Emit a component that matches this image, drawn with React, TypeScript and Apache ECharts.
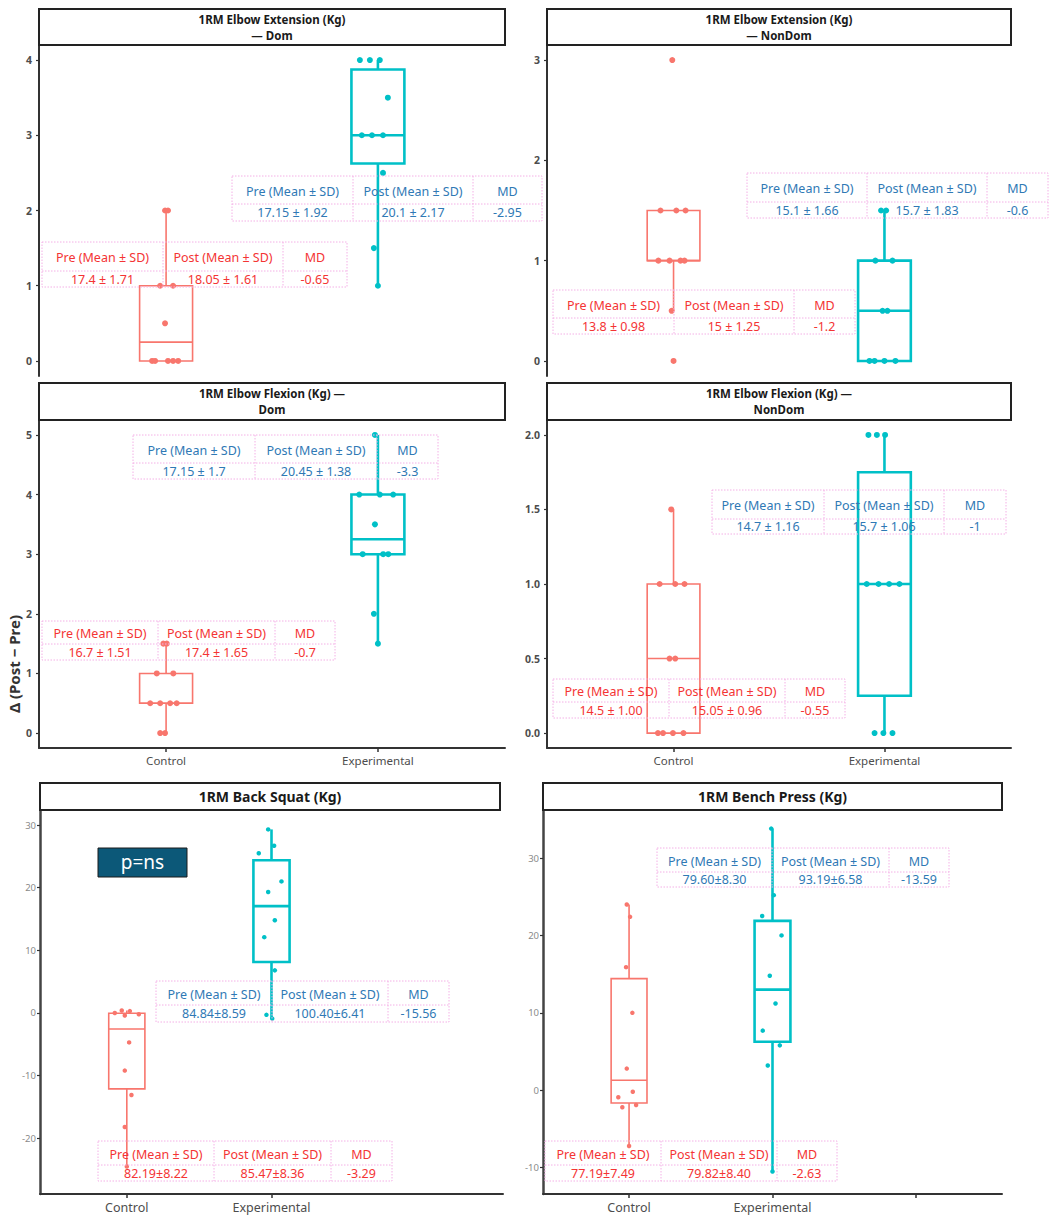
import React, { useEffect, useRef } from "react";
import * as echarts from "echarts";

// ---------- data ----------
const groupNames = ["Control", "Experimental"];
const bottomCategories = ["Control", "Experimental", ""];

const panelTitles = [
  ["1RM Elbow Extension (Kg)", "— Dom"],
  ["1RM Elbow Extension (Kg)", "— NonDom"],
  ["1RM Elbow Flexion (Kg) —", "Dom"],
  ["1RM Elbow Flexion (Kg) —", "NonDom"],
  ["1RM Back Squat (Kg)"],
  ["1RM Bench Press (Kg)"],
];

const yAxisName = "Δ (Post − Pre)";
const pLabel = "p=ns";

// Elbow Extension Dom
const extDomControl = [0, 0, 0, 0, 0, 0.5, 1, 1, 2, 2];
const extDomControlJitter = [-0.066, -0.052, 0.009, 0.033, 0.057, -0.005, -0.028, 0.033, -0.005, 0.009];
const extDomExp = [4, 4, 4, 3.5, 3, 3, 3, 2.5, 1.5, 1];
const extDomExpJitter = [-0.085, -0.038, 0.009, 0.047, -0.076, -0.028, 0.024, 0.024, -0.019, 0];

// Elbow Extension NonDom
const extNonControl = [1.5, 1.5, 1.5, 1, 1, 1, 1, 0.5, 0, 3];
const extNonControlJitter = [-0.062, 0.013, 0.057, -0.072, -0.019, 0.033, 0.052, -0.009, 0, -0.006];
const extNonExp = [1.5, 1.5, 1, 1, 0.5, 0.5, 0, 0, 0, 0];
const extNonExpJitter = [-0.016, 0.008, -0.043, 0.038, -0.009, 0.014, -0.071, -0.047, 0, 0.052];

// Elbow Flexion Dom
const flexDomControl = [1.5, 1.5, 1, 1, 0.5, 0.5, 0.5, 0.5, 0, 0];
const flexDomControlJitter = [-0.013, 0.003, -0.044, 0.034, -0.075, -0.028, 0.019, 0.05, -0.028, -0.005];
const flexDomExp = [5, 4, 4, 4, 3.5, 3, 3, 3, 2, 1.5];
const flexDomExpJitter = [-0.014, -0.088, 0.009, 0.072, -0.014, -0.072, 0.025, 0.049, -0.019, 0];

// Elbow Flexion NonDom
const flexNonControl = [1.5, 1, 1, 1, 0.5, 0.5, 0, 0, 0, 0];
const flexNonControlJitter = [-0.011, -0.066, 0.008, 0.052, -0.019, 0.008, -0.074, -0.05, -0.003, 0.047];
const flexNonExp = [2, 2, 2, 1, 1, 1, 1, 0, 0, 0];
const flexNonExpJitter = [-0.076, -0.036, 0.003, -0.084, -0.028, 0.022, 0.071, -0.047, -0.005, 0.038];

// Back Squat
const squatControl = [0, 0.4, 0.3, -0.4, -0.2, -4.7, -9.2, -13.1, -18.2, -24.5];
const squatControlJitter = [-0.083, -0.035, 0.021, -0.014, 0.083, 0.016, -0.014, 0.032, -0.014, 0];
const squatExp = [29.3, 26.7, 25.5, 21, 19.3, 14.8, 12.1, 6.8, -0.3, -0.9];
const squatExpJitter = [-0.023, 0.018, -0.088, 0.069, -0.023, 0.023, -0.05, 0.023, -0.035, 0.005];

// Bench Press
const benchControl = [24, 22.4, 15.9, 10, 2.8, -0.2, -0.9, -1.9, -2.2, -7.2];
const benchControlJitter = [-0.016, 0.007, -0.021, 0.023, -0.016, 0.026, -0.075, 0.049, -0.047, 0];
const benchExp = [33.8, 25.2, 22.5, 20, 14.8, 11.2, 7.7, 5.8, 3.2, -10.5];
const benchExpJitter = [-0.009, 0.009, -0.072, 0.063, -0.019, 0.021, -0.068, 0.051, -0.033, 0];

// y ticks
const ticksP1 = [0, 1, 2, 3, 4];
const ticksP2 = [0, 1, 2, 3];
const ticksP3 = [0, 1, 2, 3, 4, 5];
const ticksP4 = [0, 0.5, 1, 1.5, 2];
const ticksP5 = [-20, -10, 0, 10, 20, 30];
const ticksP6 = [-10, 0, 10, 20, 30];

// tables
const tableHeader = ["Pre (Mean ± SD)", "Post (Mean ± SD)", "MD"];
const tableControl = [
  ["17.4 ± 1.71", "18.05 ± 1.61", "-0.65"],
  ["13.8 ± 0.98", "15 ± 1.25", "-1.2"],
  ["16.7 ± 1.51", "17.4 ± 1.65", "-0.7"],
  ["14.5 ± 1.00", "15.05 ± 0.96", "-0.55"],
  ["82.19±8.22", "85.47±8.36", "-3.29"],
  ["77.19±7.49", "79.82±8.40", "-2.63"],
];
const tableExp = [
  ["17.15 ± 1.92", "20.1 ± 2.17", "-2.95"],
  ["15.1 ± 1.66", "15.7 ± 1.83", "-0.6"],
  ["17.15 ± 1.7", "20.45 ± 1.38", "-3.3"],
  ["14.7 ± 1.16", "15.7 ± 1.06", "-1"],
  ["84.84±8.59", "100.40±6.41", "-15.56"],
  ["79.60±8.30", "93.19±6.58", "-13.59"],
];

const panelData = [
  { c: extDomControl, cj: extDomControlJitter, e: extDomExp, ej: extDomExpJitter, ticks: ticksP1 },
  { c: extNonControl, cj: extNonControlJitter, e: extNonExp, ej: extNonExpJitter, ticks: ticksP2 },
  { c: flexDomControl, cj: flexDomControlJitter, e: flexDomExp, ej: flexDomExpJitter, ticks: ticksP3 },
  { c: flexNonControl, cj: flexNonControlJitter, e: flexNonExp, ej: flexNonExpJitter, ticks: ticksP4 },
  { c: squatControl, cj: squatControlJitter, e: squatExp, ej: squatExpJitter, ticks: ticksP5 },
  { c: benchControl, cj: benchControlJitter, e: benchExp, ej: benchExpJitter, ticks: ticksP6 },
];

// ---------- layout / style ----------
const FONT = "Noto Sans";
const C_CTRL = "#F8766D";
const C_EXP = "#00C0C7";
const T_RED = "#F43434";
const T_BLUE = "#2F79B5";
const GRIDLINE = "#F4B0E6";

const layout = [
  { grid: { left: 39, top: 45, width: 466, height: 331 }, y: [-0.2, 4.2], xMax: 2.6, xTicks: [1, 2], title: { x: 39, y: 9, w: 466, h: 36 }, showX: false, bottom: false,
    tc: { x: 42, y: 242, cols: [121, 120, 64], hh: 29, vh: 16 }, te: { x: 232, y: 176, cols: [121, 120, 69], hh: 28, vh: 17 } },
  { grid: { left: 547, top: 45, width: 464, height: 331 }, y: [-0.15, 3.15], xMax: 2.6, xTicks: [1, 2], title: { x: 547, y: 9, w: 464, h: 36 }, showX: false, bottom: false,
    tc: { x: 553, y: 290, cols: [121, 120, 61], hh: 28, vh: 16 }, te: { x: 747, y: 173, cols: [120, 120, 61], hh: 29, vh: 16 } },
  { grid: { left: 39, top: 420, width: 466, height: 328 }, y: [-0.25, 5.25], xMax: 2.6, xTicks: [1, 2], title: { x: 39, y: 383, w: 466, h: 37 }, showX: true, bottom: false,
    tc: { x: 42, y: 621, cols: [116, 117, 60], hh: 23, vh: 16 }, te: { x: 133, y: 435, cols: [122, 122, 61], hh: 28, vh: 16 } },
  { grid: { left: 547, top: 420, width: 464, height: 328 }, y: [-0.1, 2.1], xMax: 2.6, xTicks: [1, 2], title: { x: 547, y: 383, w: 464, h: 37 }, showX: true, bottom: false,
    tc: { x: 553, y: 679, cols: [116, 116, 60], hh: 23, vh: 16 }, te: { x: 712, y: 490, cols: [112, 120, 62], hh: 29, vh: 15 } },
  { grid: { left: 40, top: 810, width: 463, height: 384 }, y: [-28.9, 32.4], xMax: 3.6, xTicks: [1, 2], title: { x: 40, y: 783, w: 460, h: 27 }, showX: true, bottom: true,
    tc: { x: 98, y: 1141, cols: [116, 117, 61], hh: 24, vh: 16 }, te: { x: 156, y: 981, cols: [116, 116, 61], hh: 24, vh: 17 } },
  { grid: { left: 543, top: 810, width: 459, height: 384 }, y: [-13.4, 36.2], xMax: 3.6, xTicks: [1, 2, 3], title: { x: 543, y: 783, w: 459, h: 27 }, showX: true, bottom: true,
    tc: { x: 545, y: 1141, cols: [116, 116, 60], hh: 24, vh: 16 }, te: { x: 657, y: 848, cols: [115, 117, 60], hh: 24, vh: 15 } },
];

function quantile(s: number[], p: number) {
  const pos = (s.length - 1) * p;
  const lo = Math.floor(pos);
  const hi = Math.ceil(pos);
  return s[lo] + (s[hi] - s[lo]) * (pos - lo);
}
function boxStats(values: number[]) {
  const s = [...values].sort((a, b) => a - b);
  const q1 = quantile(s, 0.25);
  const med = quantile(s, 0.5);
  const q3 = quantile(s, 0.75);
  const iqr = q3 - q1;
  const lo = Math.min(...s.filter((v) => v >= q1 - 1.5 * iqr));
  const hi = Math.max(...s.filter((v) => v <= q3 + 1.5 * iqr));
  return [lo, q1, med, q3, hi];
}

function tableGraphic(t: any, rows: string[][], color: string) {
  const els: any[] = [];
  const totalW = t.cols.reduce((a: number, b: number) => a + b, 0);
  const totalH = t.hh + t.vh;
  const line = { stroke: GRIDLINE, lineWidth: 1, lineDash: [1.5, 1.5] };
  els.push({ type: "rect", shape: { x: t.x, y: t.y, width: totalW, height: totalH }, style: { fill: "none", ...line }, z: 10 });
  els.push({ type: "line", shape: { x1: t.x, y1: t.y + t.hh, x2: t.x + totalW, y2: t.y + t.hh }, style: line, z: 10 });
  let cx = t.x;
  t.cols.forEach((w: number, i: number) => {
    if (i > 0) els.push({ type: "line", shape: { x1: cx, y1: t.y, x2: cx, y2: t.y + totalH }, style: line, z: 10 });
    els.push({ type: "text", x: cx + w / 2, y: t.y + t.hh / 2 + 1, z: 11,
      style: { text: rows[0][i], fill: color, font: `12.5px "${FONT}"`, align: "center", verticalAlign: "middle" } });
    els.push({ type: "text", x: cx + w / 2, y: t.y + t.hh + t.vh / 2, z: 11,
      style: { text: rows[1][i], fill: color, font: `12.5px "${FONT}"`, align: "center", verticalAlign: "middle" } });
    cx += w;
  });
  return els;
}

export default function App() {
  const ref = useRef<HTMLDivElement>(null);
  useEffect(() => {
    if (!ref.current) return;
    const chart = echarts.init(ref.current, null, { renderer: "svg" });

    const grids: any[] = [];
    const xAxes: any[] = [];
    const yAxes: any[] = [];
    const series: any[] = [];
    const graphics: any[] = [];

    layout.forEach((L, i) => {
      const D = panelData[i];
      grids.push({ ...L.grid, containLabel: false });
      const cats = L.bottom ? bottomCategories : groupNames;
      xAxes.push({
        gridIndex: i, type: "value", min: 0.4, max: L.xMax,
        axisLine: { show: L.showX, onZero: false, lineStyle: { color: "#333", width: 2 } },
        axisTick: { show: L.showX, customValues: L.xTicks, length: 4, lineStyle: { color: "#333", width: 1.5 } },
        axisLabel: { show: L.showX, customValues: [1, 2], margin: L.bottom ? 7 : 6,
          formatter: (v: number) => cats[Math.round(v) - 1] ?? "",
          color: "#4d4d4d", fontFamily: FONT, fontSize: L.bottom ? 12.5 : 11.5 },
        splitLine: { show: false },
      });
      yAxes.push({
        gridIndex: i, type: "value", min: L.y[0], max: L.y[1],
        axisLine: { show: true, onZero: false, lineStyle: { color: L.bottom ? "#444" : "#333", width: L.bottom ? 2.5 : 2 } },
        axisTick: { show: true, customValues: D.ticks, length: 3, lineStyle: { color: "#333", width: 1.2 } },
        axisLabel: { customValues: D.ticks, margin: L.bottom ? 4 : 7,
          formatter: (v: number) => (i === 3 ? v.toFixed(1) : String(v)),
          color: L.bottom ? "#8a8a8a" : "#4d4d4d", fontFamily: FONT, fontSize: L.bottom ? 9.5 : 10.5, fontWeight: L.bottom ? "normal" : "bold" },
        splitLine: { show: false },
      });

      const sc = boxStats(D.c);
      const se = boxStats(D.e);
      series.push({
        type: "custom", xAxisIndex: i, yAxisIndex: i, clip: false, z: 3,
        encode: { x: 0, y: [1, 2, 3, 4, 5] },
        data: [[1, ...sc, 0], [2, ...se, 1]],
        renderItem: (params: any, api: any) => {
          const x = api.value(0);
          const g = api.value(6);
          const color = g === 0 ? C_CTRL : C_EXP;
          const lw = g === 0 ? 1.6 : 2.6;
          const mn = api.coord([x, api.value(1)]);
          const q1 = api.coord([x, api.value(2)]);
          const md = api.coord([x, api.value(3)]);
          const q3 = api.coord([x, api.value(4)]);
          const mx = api.coord([x, api.value(5)]);
          const w = api.size([0.25, 0])[0];
          const left = q1[0] - w / 2;
          const st = { stroke: color, lineWidth: lw, fill: "none" };
          return {
            type: "group",
            children: [
              { type: "line", shape: { x1: mx[0], y1: mx[1], x2: q3[0], y2: q3[1] }, style: st },
              { type: "line", shape: { x1: q1[0], y1: q1[1], x2: mn[0], y2: mn[1] }, style: st },
              { type: "rect", shape: { x: left, y: q3[1], width: w, height: q1[1] - q3[1] }, style: st },
              { type: "line", shape: { x1: left, y1: md[1], x2: left + w, y2: md[1] }, style: st },
            ],
          };
        },
      });
      const sz = L.bottom ? 4.5 : 6;
      series.push({
        type: "scatter", xAxisIndex: i, yAxisIndex: i, symbolSize: sz, z: 4,
        itemStyle: { color: C_CTRL, opacity: 1 },
        data: D.c.map((v, k) => [1 + D.cj[k], v]),
      });
      series.push({
        type: "scatter", xAxisIndex: i, yAxisIndex: i, symbolSize: sz, z: 4,
        itemStyle: { color: C_EXP, opacity: 1 },
        data: D.e.map((v, k) => [2 + D.ej[k], v]),
      });

      // title strip
      const T = L.title;
      graphics.push({ type: "rect", shape: { x: T.x, y: T.y, width: T.w, height: T.h }, style: { fill: "#fff", stroke: "#222", lineWidth: 2 }, z: 5 });
      const lines = panelTitles[i];
      lines.forEach((txt, k) => {
        const cy = lines.length === 1 ? T.y + T.h / 2 : T.y + T.h / 2 + (k === 0 ? -8 : 8);
        graphics.push({ type: "text", x: T.x + T.w / 2, y: cy, z: 6,
          style: { text: txt, fill: "#1a1a1a", font: `bold ${lines.length === 1 ? 14 : 11.5}px "${FONT}"`, align: "center", verticalAlign: "middle" } });
      });

      graphics.push(...tableGraphic(L.tc, [tableHeader, tableControl[i]], T_RED));
      graphics.push(...tableGraphic(L.te, [tableHeader, tableExp[i]], T_BLUE));
    });

    // y axis name
    graphics.push({ type: "text", x: 14, y: 664, rotation: Math.PI / 2, z: 6,
      style: { text: yAxisName, fill: "#333", font: `bold 15px "${FONT}"`, align: "center", verticalAlign: "middle" } });
    // p=ns box
    graphics.push({ type: "rect", shape: { x: 98, y: 848, width: 89, height: 29 }, style: { fill: "#0C5878", stroke: "#1a1a1a", lineWidth: 1 }, z: 6 });
    graphics.push({ type: "text", x: 142.5, y: 862, z: 7,
      style: { text: pLabel, fill: "#ffffff", font: `19px "${FONT}"`, align: "center", verticalAlign: "middle" } });

    chart.setOption({
      animation: false,
      backgroundColor: "#ffffff",
      grid: grids,
      xAxis: xAxes,
      yAxis: yAxes,
      series,
      graphic: { elements: graphics },
    });
    return () => chart.dispose();
  }, []);
  return <div ref={ref} style={{ position: "absolute", left: 0, top: 0, width: 1052, height: 1217 }} />;
}
